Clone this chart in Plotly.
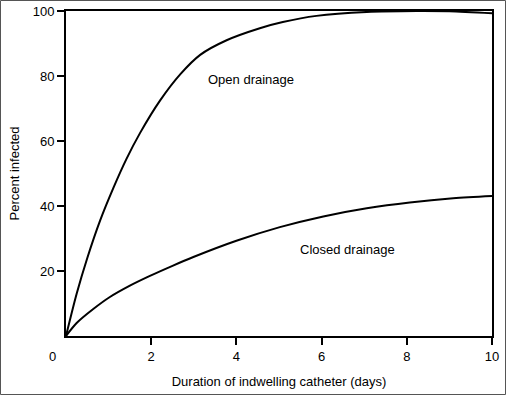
import plotly.graph_objects as go

# Data
open_days = [0, 0.25, 0.5, 0.80, 1.11, 1.42, 1.74, 2.21, 2.68, 3.15, 3.77, 4.55, 5.09, 5.88, 7.06, 8.23, 9.0, 10]
open_pct = [0, 13.0, 24.0, 35.5, 45.5, 54.5, 62.5, 72.5, 80.5, 86.5, 91.0, 94.7, 96.6, 98.5, 99.7, 100, 99.9, 99.3]

closed_days = [0, 0.25, 0.64, 1.03, 1.5, 1.97, 2.5, 2.99, 4.0, 5.02, 6.04, 7.06, 8.07, 9.09, 10]
closed_pct = [0, 4.0, 8.3, 12.0, 15.5, 18.5, 21.6, 24.3, 29.3, 33.5, 36.8, 39.3, 41.1, 42.4, 43.1]

x_ticks = [2, 4, 6, 8, 10]
y_ticks = [20, 40, 60, 80, 100]

FONT = "Liberation Sans"
FS = 13

fig = go.Figure()
for xs, ys in ((open_days, open_pct), (closed_days, closed_pct)):
    fig.add_trace(go.Scatter(x=xs, y=ys, mode="lines",
                             line=dict(color="black", width=2, shape="spline", smoothing=0.8),
                             showlegend=False, hoverinfo="skip"))

L, R, T, B = 66, 14, 11, 59
W, H = 506, 395
pw, ph = W - L - R, H - T - B

axis_common = dict(ticks="outside", ticklen=7, tickwidth=2, tickcolor="black",
                   showline=True, linecolor="black", linewidth=2, mirror=True,
                   showgrid=False, zeroline=False, automargin=False,
                   tickfont=dict(family=FONT, size=FS, color="black"))

fig.update_layout(
    width=W, height=H,
    margin=dict(l=L, r=R, t=T, b=B, pad=0, autoexpand=False),
    paper_bgcolor="white", plot_bgcolor="white",
    font=dict(family=FONT, size=FS, color="black"),
    xaxis=dict(range=[0, 10], tickvals=x_ticks, **axis_common,
               title=dict(text="Duration of indwelling catheter (days)",
                          font=dict(family=FONT, size=FS, color="black"), standoff=14)),
    yaxis=dict(range=[0, 100], tickvals=y_ticks, **axis_common,
               title=dict(text="Percent infected",
                          font=dict(family=FONT, size=FS, color="black"), standoff=10)),
    annotations=[
        dict(x=0, y=0, xref="x", yref="y", text="0", showarrow=False,
             font=dict(family=FONT, size=FS, color="black"),
             xanchor="center", yanchor="middle", xshift=-14, yshift=-20),
        dict(x=4.35, y=79, xref="x", yref="y", text="Open drainage", showarrow=False,
             font=dict(family=FONT, size=FS, color="black"),
             xanchor="center", yanchor="middle"),
        dict(x=6.6, y=26.5, xref="x", yref="y", text="Closed drainage", showarrow=False,
             font=dict(family=FONT, size=FS, color="black"),
             xanchor="center", yanchor="middle"),
    ],
    shapes=[
        dict(type="rect", xref="paper", yref="paper",
             x0=(-L + 0.5) / pw, x1=1 + (R - 0.5) / pw,
             y0=(-B + 0.5) / ph, y1=1 + (T - 0.5) / ph,
             line=dict(color="#555555", width=1), fillcolor="rgba(0,0,0,0)", layer="above"),
    ],
)

fig.write_html("out.html", config={"displayModeBar": False},
               post_script="document.body.style.margin='0';document.body.style.overflow='hidden';")
